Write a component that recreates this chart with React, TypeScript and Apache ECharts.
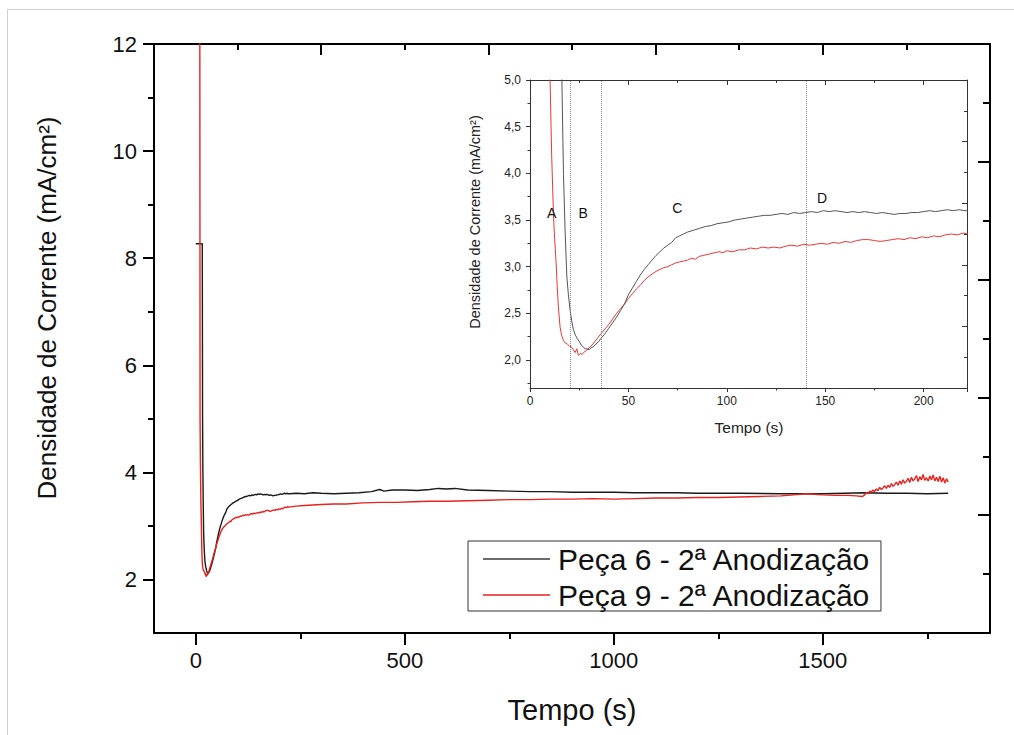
import React, { useEffect, useRef } from 'react';
import * as echarts from 'echarts';

const FONT = "'Liberation Sans', Arial, Helvetica, sans-serif";

const NAME6 = 'Peça 6 - 2ª Anodização';
const NAME9 = 'Peça 9 - 2ª Anodização';

// Main chart ticks
const mainXLabels = [0, 500, 1000, 1500];
const mainXMinor = [250, 750, 1250, 1750];
const mainYLabels = [2, 4, 6, 8, 10, 12];
const mainYMinor = [3, 5, 7, 9, 11];

// Inset ticks
const insetYLabels = [2.0, 2.5, 3.0, 3.5, 4.0, 4.5, 5.0];
const insetYMinor = [1.75, 2.25, 2.75, 3.25, 3.75, 4.25, 4.75];
const insetRegions = [20.5, 36, 140.5];
const insetMarks: [string, number, number][] = [
  ['A', 11, 3.57],
  ['B', 27, 3.57],
  ['C', 74.8, 3.63],
  ['D', 148.4, 3.74],
];

// Peça 6 (black): [tempo (s), densidade (mA/cm²)]
const peca6: [number, number][] = [
  [0, 8.27], [15.5, 8.27], [16.2, 5.0], [17, 4.0], [17.8, 3.4], [18.7, 2.9], [19.5, 2.7], [20.4, 2.53],
  [21.2, 2.42], [22, 2.33], [23, 2.27], [24, 2.23], [25, 2.2], [26, 2.16], [27, 2.14], [28, 2.12],
  [29, 2.12], [30, 2.11], [31, 2.13], [32, 2.14], [33, 2.16], [34, 2.18], [35, 2.2], [36, 2.23],
  [38, 2.28], [40, 2.34], [42, 2.4], [44, 2.46], [46, 2.53], [48, 2.6], [50, 2.7], [52, 2.77],
  [54, 2.84], [56, 2.91], [58, 2.97], [60, 3.02], [62, 3.07], [64, 3.12], [66, 3.16], [68, 3.2],
  [70, 3.23], [72, 3.26], [74, 3.31], [76, 3.33], [78, 3.35], [80, 3.37], [83, 3.39], [86, 3.41],
  [89, 3.43], [92, 3.44], [95, 3.46], [98, 3.47], [101, 3.48], [104, 3.5], [107, 3.51], [110, 3.52],
  [113, 3.53], [116, 3.54], [119, 3.55], [122, 3.55], [125, 3.56], [128, 3.57], [131, 3.56], [134, 3.58],
  [137, 3.57], [140, 3.58], [143, 3.59], [146, 3.58], [149, 3.6], [152, 3.59], [155, 3.6], [158, 3.59],
  [161, 3.58], [164, 3.59], [167, 3.58], [170, 3.59], [173, 3.58], [176, 3.57], [179, 3.58], [182, 3.57],
  [185, 3.56], [188, 3.57], [191, 3.57], [194, 3.58], [197, 3.58], [200, 3.59], [203, 3.6], [206, 3.59],
  [209, 3.6], [212, 3.61], [215, 3.6], [218, 3.61], [221, 3.6], [225, 3.6],
  [240, 3.61], [260, 3.6], [280, 3.62], [300, 3.61], [330, 3.6], [360, 3.61], [390, 3.62], [420, 3.64],
  [440, 3.68], [450, 3.65], [470, 3.67], [500, 3.67], [530, 3.66], [560, 3.68], [580, 3.7], [600, 3.69],
  [620, 3.7], [650, 3.67], [700, 3.66], [750, 3.65], [800, 3.64], [850, 3.64], [900, 3.63], [950, 3.63],
  [1000, 3.63], [1050, 3.62], [1100, 3.62], [1150, 3.62], [1200, 3.61], [1300, 3.61], [1400, 3.6],
  [1500, 3.6], [1550, 3.61], [1600, 3.62], [1650, 3.61], [1700, 3.61], [1750, 3.6], [1800, 3.61],
];

// Peça 9 (red)
const peca9: [number, number][] = [
  [9.5, 14], [10.2, 5.0], [11, 4.2], [11.9, 3.57], [12.5, 3.3], [13.2, 3.07], [13.8, 2.8], [14.4, 2.57],
  [15.3, 2.35], [16, 2.27], [17, 2.21], [18, 2.18], [19, 2.17], [20, 2.15], [21, 2.14], [22, 2.11],
  [22.9, 2.08], [23.8, 2.12], [24.6, 2.05], [25.5, 2.07], [26.5, 2.06], [27.2, 2.08], [28.5, 2.1], [30, 2.13],
  [31.5, 2.16], [33, 2.2], [34.5, 2.24], [36, 2.28], [38, 2.33], [40, 2.38], [42, 2.44], [44, 2.5],
  [46, 2.55], [48, 2.6], [50, 2.66], [52, 2.71], [54, 2.76], [56, 2.8], [58, 2.85], [60, 2.89],
  [62, 2.92], [64, 2.95], [66, 2.97], [68, 2.99], [70, 3.0], [72, 3.02], [74, 3.04], [76, 3.05],
  [78, 3.06], [80, 3.07], [82, 3.09], [84, 3.08], [86, 3.11], [88, 3.12], [90, 3.13], [92, 3.14],
  [94, 3.15], [96, 3.16], [98, 3.15], [100, 3.17], [103, 3.16], [106, 3.18], [109, 3.18], [112, 3.2],
  [115, 3.19], [118, 3.21], [121, 3.2], [124, 3.21], [127, 3.2], [130, 3.22], [133, 3.23], [136, 3.22],
  [139, 3.24], [142, 3.23], [145, 3.24], [148, 3.25], [151, 3.24], [154, 3.26], [157, 3.25], [160, 3.27],
  [163, 3.26], [166, 3.28], [169, 3.29], [172, 3.29], [175, 3.28], [178, 3.27], [181, 3.28], [184, 3.29],
  [187, 3.3], [190, 3.29], [193, 3.31], [196, 3.3], [199, 3.32], [202, 3.31], [205, 3.33], [208, 3.32],
  [211, 3.34], [214, 3.35], [217, 3.34], [220, 3.36], [223, 3.35],
  [240, 3.37], [260, 3.38], [280, 3.39], [300, 3.4], [330, 3.41], [360, 3.41], [400, 3.43], [440, 3.44],
  [480, 3.44], [520, 3.45], [560, 3.46], [600, 3.46], [650, 3.47], [700, 3.48], [750, 3.49], [800, 3.49],
  [850, 3.5], [900, 3.5], [950, 3.51], [1000, 3.5], [1050, 3.51], [1100, 3.52], [1150, 3.52], [1200, 3.53],
  [1250, 3.53], [1300, 3.54], [1350, 3.55], [1400, 3.56], [1430, 3.58], [1460, 3.6], [1480, 3.59],
  [1500, 3.58], [1530, 3.57], [1560, 3.57], [1580, 3.56], [1595, 3.55], [1600, 3.58], [1604, 3.62],
  [1608, 3.6], [1612, 3.65], [1616, 3.63], [1620, 3.67], [1624, 3.64], [1628, 3.69], [1632, 3.66],
  [1636, 3.72], [1640, 3.68], [1644, 3.71], [1648, 3.75], [1652, 3.7], [1656, 3.76], [1660, 3.72],
  [1664, 3.79], [1668, 3.74], [1672, 3.77], [1676, 3.82], [1680, 3.76], [1684, 3.84], [1688, 3.78],
  [1692, 3.86], [1696, 3.8], [1700, 3.83], [1704, 3.89], [1708, 3.81], [1712, 3.91], [1716, 3.84],
  [1720, 3.88], [1724, 3.94], [1728, 3.83], [1732, 3.92], [1736, 3.86], [1740, 3.96], [1744, 3.85],
  [1748, 3.9], [1752, 3.84], [1756, 3.93], [1760, 3.86], [1764, 3.95], [1768, 3.84], [1772, 3.91],
  [1776, 3.83], [1780, 3.93], [1784, 3.82], [1788, 3.9], [1792, 3.8], [1796, 3.88], [1800, 3.82],
];

const AX = '#000';
const IAX = '#333';

const mainLine = { show: true, onZero: false, lineStyle: { color: AX, width: 2 } };
const insetLine = { show: true, onZero: false, lineStyle: { color: IAX, width: 1 } };
const noLine = { show: false, onZero: false };
const commaFmt = (v: number) => v.toFixed(1).replace('.', ',');
const plainFmt = (v: number) => String(v);

const option: any = {
  animation: false,
  backgroundColor: '#fff',
  grid: [
    { left: 154, top: 44, right: 24, bottom: 102 },
    { left: 530, top: 80, right: 47, bottom: 347 },
  ],
  legend: {
    data: [NAME6, NAME9],
    orient: 'vertical',
    left: 468,
    top: 541,
    backgroundColor: '#fff',
    borderColor: '#333',
    borderWidth: 1,
    borderRadius: 0,
    padding: [3, 10, 1, 15],
    itemWidth: 67,
    itemHeight: 1.5,
    itemGap: 6,
    icon: 'rect',
    selectedMode: false,
    textStyle: { fontSize: 30, fontFamily: FONT, color: '#111', lineHeight: 30, padding: [0, 0, 0, 3] },
  },
  xAxis: [
    {
      gridIndex: 0, type: 'value', position: 'bottom', min: -100, max: 1900,
      axisLine: mainLine, splitLine: { show: false },
      axisTick: { customValues: mainXLabels, length: 12, lineStyle: { color: AX, width: 2 } },
      axisLabel: { customValues: mainXLabels, formatter: plainFmt, fontSize: 22, fontFamily: FONT, color: '#111', margin: 16 },
    },
    {
      gridIndex: 0, type: 'value', position: 'bottom', min: -100, max: 1900,
      axisLine: noLine, splitLine: { show: false },
      axisTick: { customValues: mainXMinor, length: 6, lineStyle: { color: AX, width: 2 } },
      axisLabel: { show: false },
    },
    {
      gridIndex: 0, type: 'value', position: 'top', min: 0, max: 10, interval: 2,
      axisLine: mainLine, splitLine: { show: false },
      axisTick: { inside: true, length: 11, lineStyle: { color: AX, width: 2 } },
      minorTick: { show: true, splitNumber: 2, length: 6, lineStyle: { color: AX, width: 2 } },
      axisLabel: { show: false },
    },
    {
      gridIndex: 1, type: 'value', position: 'bottom', min: 0, max: 222, interval: 50,
      axisLine: insetLine, splitLine: { show: false },
      axisTick: { length: 4, lineStyle: { color: IAX, width: 1 } },
      minorTick: { show: true, splitNumber: 2, length: 2.5, lineStyle: { color: IAX, width: 1 } },
      axisLabel: { formatter: plainFmt, fontSize: 12, fontFamily: FONT, color: '#222', margin: 7, showMaxLabel: false },
    },
    {
      gridIndex: 1, type: 'value', position: 'top', min: 0, max: 222, interval: 50,
      axisLine: insetLine, splitLine: { show: false },
      axisTick: { inside: true, length: 5, lineStyle: { color: IAX, width: 1 } },
      minorTick: { show: true, splitNumber: 2, length: 3, lineStyle: { color: IAX, width: 1 } },
      axisLabel: { show: false },
    },
  ],
  yAxis: [
    {
      gridIndex: 0, type: 'value', position: 'left', min: 1, max: 12,
      axisLine: mainLine, splitLine: { show: false },
      axisTick: { customValues: mainYLabels, length: 11, lineStyle: { color: AX, width: 2 } },
      axisLabel: { customValues: mainYLabels, formatter: plainFmt, fontSize: 22, fontFamily: FONT, color: '#111', margin: 17 },
    },
    {
      gridIndex: 0, type: 'value', position: 'left', min: 1, max: 12,
      axisLine: noLine, splitLine: { show: false },
      axisTick: { customValues: mainYMinor, length: 6, lineStyle: { color: AX, width: 2 } },
      axisLabel: { show: false },
    },
    {
      gridIndex: 0, type: 'value', position: 'right', min: 0, max: 10, interval: 2,
      axisLine: mainLine, splitLine: { show: false },
      axisTick: { inside: true, length: 12, lineStyle: { color: AX, width: 2 } },
      minorTick: { show: true, splitNumber: 2, length: 7, lineStyle: { color: AX, width: 2 } },
      axisLabel: { show: false },
    },
    {
      gridIndex: 1, type: 'value', position: 'left', min: 1.7, max: 5.0,
      axisLine: insetLine, splitLine: { show: false },
      axisTick: { customValues: insetYLabels, length: 4, lineStyle: { color: IAX, width: 1 } },
      axisLabel: { customValues: insetYLabels, formatter: commaFmt, fontSize: 12, fontFamily: FONT, color: '#222', margin: 9 },
    },
    {
      gridIndex: 1, type: 'value', position: 'left', min: 1.7, max: 5.0,
      axisLine: noLine, splitLine: { show: false },
      axisTick: { customValues: insetYMinor, length: 2.5, lineStyle: { color: IAX, width: 1 } },
      axisLabel: { show: false },
    },
    {
      gridIndex: 1, type: 'value', position: 'right', min: 0, max: 10, interval: 2,
      axisLine: insetLine, splitLine: { show: false },
      axisTick: { inside: true, length: 5, lineStyle: { color: IAX, width: 1 } },
      minorTick: { show: true, splitNumber: 2, length: 3, lineStyle: { color: IAX, width: 1 } },
      axisLabel: { show: false },
    },
  ],
  series: [
    {
      type: 'line', name: NAME6, data: peca6, xAxisIndex: 0, yAxisIndex: 0,
      symbol: 'none', showSymbol: false, silent: true, z: 2,
      lineStyle: { color: '#1a1a1a', width: 1.4 }, itemStyle: { color: '#3a3a3a' },
    },
    {
      type: 'line', name: NAME9, data: peca9, xAxisIndex: 0, yAxisIndex: 0,
      symbol: 'none', showSymbol: false, silent: true, z: 3,
      lineStyle: { color: '#e8221f', width: 1.4 }, itemStyle: { color: '#e8221f' },
    },
    {
      type: 'line', name: NAME9, data: peca9, xAxisIndex: 3, yAxisIndex: 3,
      symbol: 'none', showSymbol: false, silent: true, z: 2,
      lineStyle: { color: '#ee3535', width: 1 },
    },
    {
      type: 'line', name: NAME6, data: peca6, xAxisIndex: 3, yAxisIndex: 3,
      symbol: 'none', showSymbol: false, silent: true, z: 3,
      lineStyle: { color: '#555', width: 1 },
      markLine: {
        silent: true, symbol: 'none', label: { show: false },
        lineStyle: { type: 'dotted', color: '#8a8a8a', width: 1 },
        data: insetRegions.map((x) => ({ xAxis: x })),
      },
      markPoint: {
        silent: true, symbol: 'circle', symbolSize: 1,
        itemStyle: { color: 'rgba(0,0,0,0)' },
        label: { show: true, position: 'inside', formatter: '{b}', fontSize: 14, fontFamily: FONT, color: '#111' },
        data: insetMarks.map(([n, x, y]) => ({ name: n, coord: [x, y] })),
      },
    },
  ],
  graphic: [
    {
      type: 'rect', silent: true, z: -10,
      shape: { x: 7.5, y: 9.5, width: 1100, height: 800 },
      style: { fill: 'none', stroke: '#cfcfcf', lineWidth: 1 },
    },
    {
      type: 'text', x: 47, y: 308, rotation: Math.PI / 2, silent: true,
      style: { text: 'Densidade de Corrente (mA/cm²)', fontSize: 26, fontFamily: FONT, fill: '#111', textAlign: 'center', textVerticalAlign: 'middle' },
    },
    {
      type: 'text', x: 572, y: 710, silent: true,
      style: { text: 'Tempo (s)', fontSize: 29, fontFamily: FONT, fill: '#111', textAlign: 'center', textVerticalAlign: 'middle' },
    },
    {
      type: 'text', x: 475, y: 222, rotation: Math.PI / 2, silent: true,
      style: { text: 'Densidade de Corrente (mA/cm²)', fontSize: 14.5, fontFamily: FONT, fill: '#222', textAlign: 'center', textVerticalAlign: 'middle' },
    },
    {
      type: 'text', x: 749, y: 427, silent: true,
      style: { text: 'Tempo (s)', fontSize: 15.5, fontFamily: FONT, fill: '#222', textAlign: 'center', textVerticalAlign: 'middle' },
    },
  ],
};

export default function App() {
  const ref = useRef<HTMLDivElement>(null);
  useEffect(() => {
    if (!ref.current) return;
    const chart = echarts.init(ref.current, null, { renderer: 'svg' });
    chart.setOption(option);
    return () => chart.dispose();
  }, []);
  return (
    <div
      ref={ref}
      style={{ position: 'absolute', left: 0, top: 0, width: 1014, height: 735, background: '#fff' }}
    />
  );
}
